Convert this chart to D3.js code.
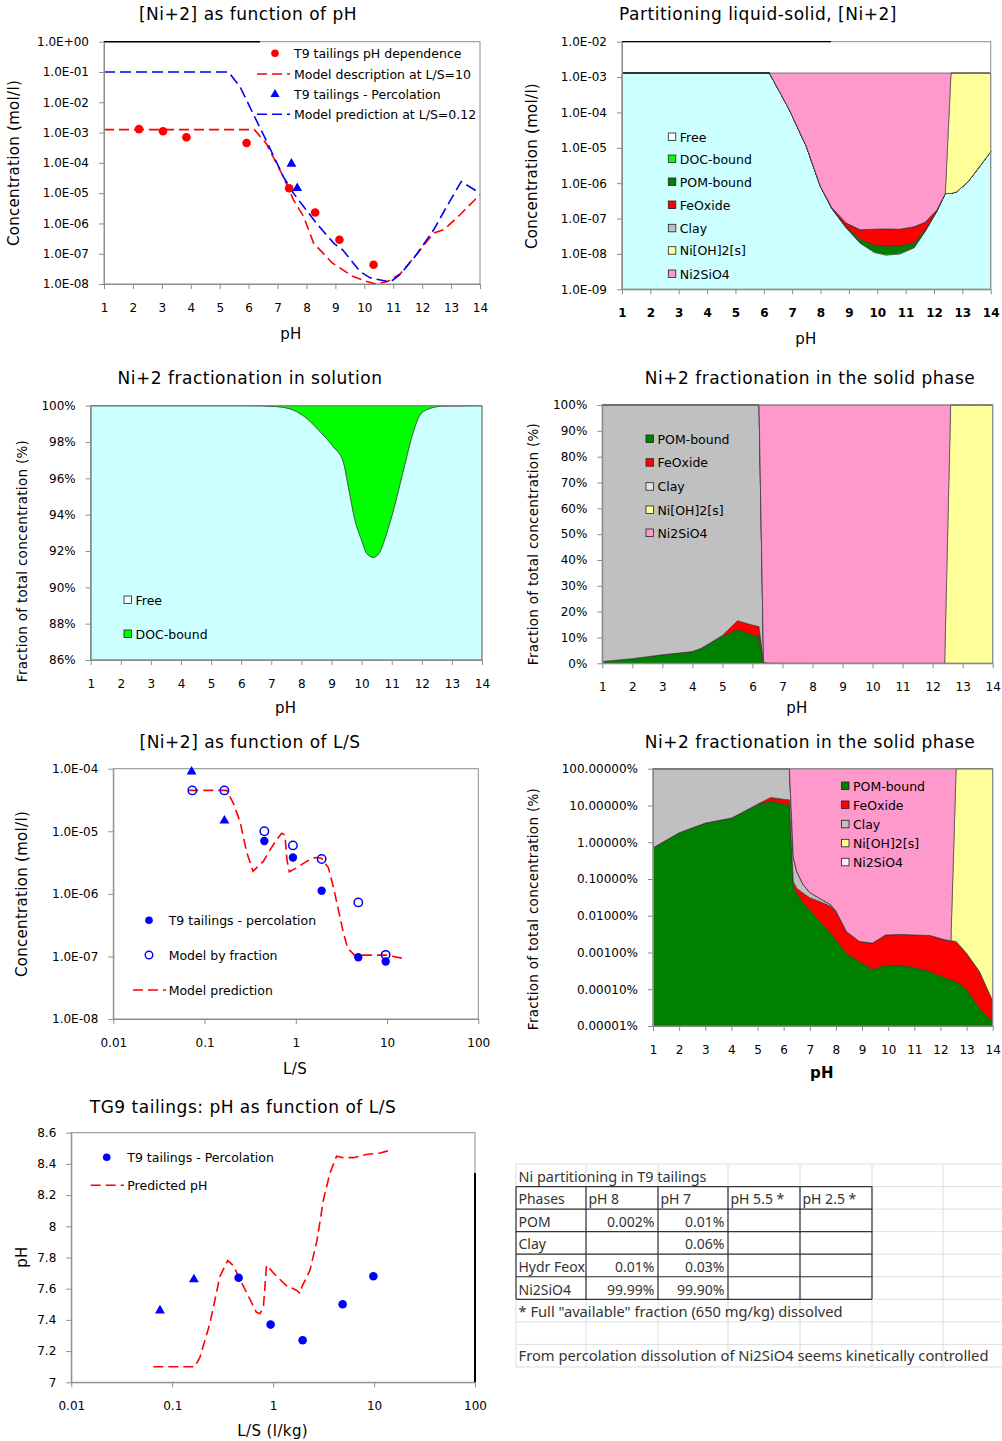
<!DOCTYPE html>
<html>
<head>
<meta charset="utf-8">
<script src="https://cdn.jsdelivr.net/npm/d3@7"></script>
<style>
  body { margin: 0; background: #fff; }
</style>
</head>
<body>
<svg id="fig" width="1002" height="1441"></svg>
<script>
// ---------- panel 1: [Ni+2] as function of pH ----------
const obsPH = [2.21, 3.04, 3.85, 5.93, 7.40, 8.30, 9.14, 10.32];
const obsConc = [1.3e-3, 1.1e-3, 7e-4, 4.5e-4, 1.45e-5, 2.3e-6, 2.9e-7, 4.3e-8];
const percPH = [7.48, 7.68];
const percConc = [9.3e-5, 1.45e-5];
const ls10PH = [1, 6.2, 6.6, 7.2, 7.55, 7.9, 8.25, 8.9, 9.6, 10.1, 10.4, 10.8, 11.25, 11.8, 12.4, 12.75, 13.3, 14];
const ls10Conc = [1.25e-3, 1.25e-3, 4.5e-4, 3.5e-5, 6e-6, 1.7e-6, 2.2e-7, 4.9e-8, 1.8e-8, 1.2e-8, 1.0e-8, 1.2e-8, 2.2e-8, 9.3e-8, 4.8e-7, 6.2e-7, 1.9e-6, 8.9e-6];
const ls012PH = [1, 5.3, 5.7, 6.15, 6.6, 7.2, 7.55, 7.9, 8.35, 8.95, 9.25, 9.85, 10.2, 10.65, 10.9, 11.25, 11.8, 12.4, 12.85, 13.35, 14];
const ls012Conc = [0.1, 0.1, 3.3e-2, 4.3e-3, 5.7e-4, 3.5e-5, 1e-5, 3.6e-6, 1e-6, 2.2e-7, 1.35e-7, 2.6e-8, 1.6e-8, 1.3e-8, 1.15e-8, 2.1e-8, 9.3e-8, 6.2e-7, 3.6e-6, 2.4e-5, 1e-5];

// ---------- panel 2: partitioning liquid-solid (mol/l) ----------
const partPH = [1, 6.2, 6.9, 7.5, 8.0, 8.4, 8.9, 9.4, 9.9, 10.3, 10.8, 11.3, 11.7, 12.1, 12.4, 12.6, 12.8, 13.2, 13.6, 14];
const partFree = [1.3e-3, 1.3e-3, 1.2e-4, 1.1e-5, 8e-7, 1.9e-7, 5.5e-8, 2.0e-8, 1.1e-8, 9.3e-9, 1.0e-8, 1.5e-8, 4.5e-8, 1.6e-7, 5.1e-7, 5.1e-7, 5.7e-7, 1.1e-6, 2.9e-6, 7.8e-6];
const partDOC = [0, 0, 0, 0, 0, 1e-9, 1e-9, 1e-9, 8e-10, 8e-10, 8e-10, 6e-10, 5e-10, 2e-10, 0, 0, 0, 0, 0, 0];
const partPOM = [0, 0, 0, 0, 0, 2e-9, 4e-9, 5e-9, 6e-9, 6.5e-9, 6e-9, 5e-9, 4e-9, 3e-9, 1e-9, 0, 0, 0, 0, 0];
const partFeOx = [0, 0, 0, 0, 0, 1e-8, 1.5e-8, 2.2e-8, 3.2e-8, 3.4e-8, 3.3e-8, 3.8e-8, 3e-8, 1e-8, 2e-9, 0, 0, 0, 0, 0];
const partClay = [0, 0, 0, 0, 0, 3e-10, 3e-10, 3e-10, 3e-10, 3e-10, 3e-10, 3e-10, 3e-10, 2e-10, 0, 0, 0, 0, 0, 0];
const partNiOH2 = [0, 0, 0, 0, 0, 0, 0, 0, 0, 0, 0, 0, 0, 0, 0, 1.3e-3, 1.3e-3, 1.3e-3, 1.3e-3, 1.29e-3];
const partNi2SiO4 = [0, 0, 1.18e-3, 1.29e-3, 1.3e-3, 1.3e-3, 1.3e-3, 1.3e-3, 1.3e-3, 1.3e-3, 1.3e-3, 1.3e-3, 1.3e-3, 1.3e-3, 1.3e-3, 0, 0, 0, 0, 0];

// ---------- panel 3: fractionation in solution (%) ----------
const solPH = [1, 6.3, 7.18, 7.73, 8.18, 8.62, 9.06, 9.39, 9.56, 9.78, 10.0, 10.17, 10.39, 10.61, 10.83, 11.06, 11.39, 11.72, 11.94, 12.27, 12.72, 14];
const solFree = [100, 100, 99.95, 99.76, 99.3, 98.57, 97.74, 96.92, 95.54, 93.7, 92.6, 91.87, 91.65, 91.96, 92.97, 94.26, 96.46, 98.57, 99.49, 99.85, 99.98, 100];
const solDOC = [0, 0, 0.05, 0.24, 0.7, 1.43, 2.26, 3.08, 4.46, 6.3, 7.4, 8.13, 8.35, 8.04, 7.03, 5.74, 3.54, 1.43, 0.51, 0.15, 0.02, 0];

// ---------- panels 4 and 6: fractionation in the solid phase (%) ----------
const solidPH = [1, 2, 3, 4, 4.3, 5, 5.5, 6, 6.22, 6.37, 6.5, 6.75, 7, 7.4, 7.8, 8.0, 8.4, 8.9, 9.4, 9.9, 10.5, 11, 11.6, 12.2, 12.4, 12.6, 13, 13.5, 14];
const solidPOM = [0.7, 1.8, 3.3, 4.5, 5.8, 10.5, 13, 11, 10.2, 0.065, 0.041, 0.022, 0.0144, 0.0069, 0.0033, 0.0022, 0.00095, 0.00056, 0.00035, 0.00044, 0.00044, 0.00039, 0.0003, 0.0002, 0.00018, 0.00016, 0.0001, 0.00003, 0.0000132];
const solidFeOx = [0.002, 0.005, 0.01, 0.03, 0.05, 0.3, 3.5, 3.8, 4.0, 0.02, 0.015, 0.019, 0.0166, 0.0171, 0.0147, 0.0108, 0.00275, 0.00144, 0.00145, 0.00256, 0.00266, 0.00261, 0.0026, 0.002, 0.00192, 0.00184, 0.00085, 0.00027, 0.000035];
const solidClay = [99.3, 98.2, 96.7, 95.47, 94.15, 89.2, 83.5, 85.2, 85.8, 0.315, 0.104, 0.029, 0.012, 0.005, 0.002, 0.0005, 0, 0, 0, 0, 0, 0, 0, 0, 0, 0, 0, 0, 0];
const solidNiOH2 = [0, 0, 0, 0, 0, 0, 0, 0, 0, 0, 0, 0, 0, 0, 0, 0, 0, 0, 0, 0, 0, 0, 0, 0, 0, 99.998, 99.999, 99.9997, 99.99995];
const solidNi2SiO4 = [0, 0, 0, 0, 0, 0, 0, 0, 0, 99.6, 99.84, 99.93, 99.957, 99.971, 99.98, 99.987, 99.996, 99.998, 99.998, 99.997, 99.997, 99.997, 99.997, 99.998, 99.998, 0, 0, 0, 0];

// ---------- panel 5: [Ni+2] as function of L/S ----------
const lsTriLS = [0.0721, 0.165];
const lsTriConc = [9e-5, 1.48e-5];
const lsPercLS = [0.452, 0.93, 1.92, 4.84, 9.66];
const lsPercConc = [7e-6, 3.8e-6, 1.12e-6, 9.7e-8, 8.3e-8];
const lsFracLS = [0.0734, 0.165, 0.452, 0.93, 1.92, 4.84, 9.66];
const lsFracConc = [4.5e-5, 4.5e-5, 1.0e-5, 5.95e-6, 3.6e-6, 7.3e-7, 1.06e-7];
const lsModelLS = [0.0664, 0.175, 0.207, 0.245, 0.289, 0.34, 0.44, 0.52, 0.61, 0.70, 0.76, 0.80, 0.85, 1.02, 1.31, 1.63, 1.92, 2.28, 2.6, 2.9, 3.3, 3.7, 4.4, 5.5, 7.0, 9.9, 15.0];
const lsModelConc = [4.5e-5, 4.5e-5, 2.8e-5, 1.42e-5, 4.7e-6, 2.3e-6, 3.3e-6, 5e-6, 7.2e-6, 9.3e-6, 8.7e-6, 3.5e-6, 2.26e-6, 2.6e-6, 3.3e-6, 3.8e-6, 3.7e-6, 2.6e-6, 1.23e-6, 5.9e-7, 2.5e-7, 1.35e-7, 1.05e-7, 1.05e-7, 1.05e-7, 1.05e-7, 9.3e-8];

// ---------- panel 7: pH as function of L/S ----------
const phTriLS = [0.0756, 0.164];
const phTriPH = [7.46, 7.66];
const phPercLS = [0.455, 0.944, 1.96, 4.88, 9.84];
const phPercPH = [7.67, 7.37, 7.27, 7.50, 7.68];
const phModelLS = [0.065, 0.167, 0.188, 0.237, 0.297, 0.355, 0.40, 0.47, 0.57, 0.68, 0.74, 0.80, 0.86, 1.08, 1.35, 1.70, 1.85, 1.92, 2.32, 2.72, 3.15, 3.65, 4.25, 4.95, 6.2, 8.4, 11.5, 14.9];
const phModelPH = [7.10, 7.10, 7.16, 7.38, 7.68, 7.78, 7.75, 7.66, 7.55, 7.45, 7.44, 7.48, 7.75, 7.68, 7.62, 7.59, 7.57, 7.61, 7.72, 7.91, 8.17, 8.34, 8.45, 8.44, 8.44, 8.46, 8.47, 8.49];

// ---------- table ----------
const tableTitle = "Ni partitioning in T9 tailings";
const tableHeader = ["Phases", "pH 8", "pH 7", "pH 5.5 *", "pH 2.5 *"];
const tableRows = [
  ["POM", "0.002%", "0.01%", "", ""],
  ["Clay", "", "0.06%", "", ""],
  ["Hydr Feox", "0.01%", "0.03%", "", ""],
  ["Ni2SiO4", "99.99%", "99.90%", "", ""]
];
const tableNote = "* Full \"available\" fraction (650 mg/kg) dissolved";
const tableRemark = "From percolation dissolution of Ni2SiO4 seems kinetically controlled";

// tick values
const pHTicks = d3.range(1, 15);
const lsTicks = [0.01, 0.1, 1, 10, 100];

const COL = {free: "#CCFFFF", doc: "#00FF00", pom: "#008000", feox: "#FF0000", clay: "#C0C0C0", nioh2: "#FFFF99", ni2sio4: "#FF99CC"};
const FONT = "DejaVu Sans";
const svg = d3.select("#fig");
svg.append("rect").attr("width", 1002).attr("height", 1441).attr("fill", "#fff");

function eLabel(v) {
  const e = Math.round(Math.log10(v));
  return "1.0E" + (e < 0 ? "-" : "+") + String(Math.abs(e)).padStart(2, "0");
}

function txt(g, x, y, s, size, o = {}) {
  const t = g.append("text").attr("x", x).attr("y", y)
    .attr("font-family", o.family || FONT).attr("font-size", size)
    .attr("dominant-baseline", "central").attr("text-anchor", o.anchor || "start")
    .attr("fill", o.fill || "#000").text(s);
  if (o.rotate) t.attr("transform", `rotate(-90,${x},${y})`);
  if (o.weight) t.attr("font-weight", o.weight);
  if (o.ls) t.attr("letter-spacing", o.ls);
  return t;
}

function frame(g, x, y) {
  const [L, R] = x.range(), [B, T] = y.range();
  g.append("rect").attr("x", L).attr("y", T).attr("width", R - L).attr("height", B - T)
    .attr("fill", "none").attr("stroke", "#8c8c8c").attr("stroke-width", 1);
}

function drawAxes(g, x, y, c) {
  const gx = g.append("g").attr("transform", `translate(0,${y.range()[0]})`)
    .call(d3.axisBottom(x).tickValues(c.xTicks).tickFormat(c.xFmt).tickSize(5).tickSizeOuter(0).tickPadding(14));
  const gy = g.append("g").attr("transform", `translate(${x.range()[0]},0)`)
    .call(d3.axisLeft(y).tickValues(c.yTicks).tickFormat(c.yFmt).tickSize(5).tickSizeOuter(0).tickPadding(10));
  for (const a of [gx, gy]) {
    a.select(".domain").attr("stroke", "#8c8c8c");
    a.selectAll(".tick line").attr("stroke", "#8c8c8c");
    a.selectAll(".tick text").attr("font-family", FONT).attr("font-size", 12).attr("fill", "#000");
  }
  if (c.xBold) gx.selectAll(".tick text").attr("font-weight", "bold");
}

function titles(g, t, yt, xt) {
  txt(g, t[0], t[1], t[2], 17, {anchor: "middle", ls: 0.5});
  txt(g, yt[0], yt[1], yt[2], yt[3], {anchor: "middle", rotate: true, ls: 0.3});
  txt(g, xt[0], xt[1], xt[2], 15, {anchor: "middle", ls: 0.4, weight: xt[3]});
}

function legendBox(g, x, y, color, label) {
  g.append("rect").attr("x", x).attr("y", y - 4).attr("width", 7.5).attr("height", 7.5)
    .attr("fill", color).attr("stroke", "#222").attr("stroke-width", 0.8);
  txt(g, x + 11.5, y, label, 12.5);
}

const dashed = (g, d, color, dash) => g.append("path").attr("d", d).attr("fill", "none")
  .attr("stroke", color).attr("stroke-width", 1.6).attr("stroke-dasharray", dash);

function stackRows(xs, series) {
  return xs.map((p, i) => {
    const r = {x: p};
    for (const k in series) r[k] = series[k][i];
    return r;
  });
}

function drawStack(g, rows, keys, x, y, curve, colors) {
  const st = d3.stack().keys(keys)(rows);
  const lo = y.domain()[0];
  const area = d3.area().curve(curve)
    .x(d => x(d.data.x))
    .y0(d => y(Math.max(d[0], lo)))
    .y1(d => y(Math.max(d[1], lo)));
  g.append("g").selectAll("path").data(st).join("path")
    .attr("d", area).attr("fill", s => colors[s.key])
    .attr("stroke", "#333").attr("stroke-width", 0.6);
}

// ================= panel 1 =================
{
  const g = svg.append("g");
  const x = d3.scaleLinear().domain([1, 14]).range([104, 480]);
  const y = d3.scaleLog().domain([1e-8, 1]).range([284, 41.7]).clamp(true);
  frame(g, x, y);
  g.append("line").attr("x1", 104).attr("x2", 260).attr("y1", 41.7).attr("y2", 41.7).attr("stroke", "#000").attr("stroke-width", 1.4);
  const line = d3.line().x(d => x(d[0])).y(d => y(d[1]));
  dashed(g, line(d3.zip(ls10PH, ls10Conc)), "#FF0000", "10,5");
  dashed(g, line(d3.zip(ls012PH, ls012Conc)), "#0000FF", "11,5");
  g.selectAll(".obs").data(d3.zip(obsPH, obsConc)).join("circle")
    .attr("cx", d => x(d[0])).attr("cy", d => y(d[1])).attr("r", 4.3).attr("fill", "#FF0000");
  g.selectAll(".perc").data(d3.zip(percPH, percConc)).join("path")
    .attr("transform", d => `translate(${x(d[0])},${y(d[1])})`)
    .attr("d", d3.symbol(d3.symbolTriangle, 42)).attr("fill", "#0000FF");
  drawAxes(g, x, y, {xTicks: pHTicks, xFmt: d3.format("d"), yTicks: d3.range(-8, 1).map(e => Math.pow(10, e)), yFmt: eLabel});
  // legend
  g.append("circle").attr("cx", 275).attr("cy", 53.3).attr("r", 3.8).attr("fill", "#FF0000");
  g.append("path").attr("d", d3.symbol(d3.symbolTriangle, 36)).attr("transform", "translate(275,94.3)").attr("fill", "#0000FF");
  dashed(g, "M257,74H290", "#FF0000", "10,5");
  dashed(g, "M257,114.3H290", "#0000FF", "10,5");
  txt(g, 294, 53.3, "T9 tailings  pH dependence", 12.5);
  txt(g, 294, 74, "Model description at L/S=10", 12.5);
  txt(g, 294, 94.3, "T9 tailings  - Percolation", 12.5);
  txt(g, 294, 114.3, "Model prediction at L/S=0.12", 12.5);
  titles(g, [248, 13.5, "[Ni+2] as function of pH"], [14, 163, "Concentration (mol/l)", 15], [291, 334, "pH"]);
}

// ================= panel 2 =================
{
  const g = svg.append("g");
  const x = d3.scaleLinear().domain([1, 14]).range([622, 990.7]);
  const y = d3.scaleLog().domain([1e-9, 1e-2]).range([289.3, 41.7]).clamp(true);
  const rows = stackRows(partPH, {free: partFree, doc: partDOC, pom: partPOM, feox: partFeOx, clay: partClay, nioh2: partNiOH2, ni2sio4: partNi2SiO4});
  drawStack(g, rows, ["free", "doc", "pom", "feox", "clay", "nioh2", "ni2sio4"], x, y, d3.curveLinear, COL);
  frame(g, x, y);
  g.append("line").attr("x1", 622).attr("x2", 831).attr("y1", 41.7).attr("y2", 41.7).attr("stroke", "#000").attr("stroke-width", 1.2);
  drawAxes(g, x, y, {xTicks: pHTicks, xFmt: d3.format("d"), yTicks: d3.range(-9, -1).map(e => Math.pow(10, e)), yFmt: eLabel, xBold: true});
  const items = [["#f6ffff", "Free"], [COL.doc, "DOC-bound"], [COL.pom, "POM-bound"], [COL.feox, "FeOxide"], [COL.clay, "Clay"], [COL.nioh2, "Ni[OH]2[s]"], [COL.ni2sio4, "Ni2SiO4"]];
  const ly = [137, 159, 182, 205, 228.3, 250.7, 274];
  items.forEach((it, i) => legendBox(g, 668.3, ly[i], it[0], it[1]));
  titles(g, [758, 13.5, "Partitioning liquid-solid, [Ni+2]"], [532, 166, "Concentration (mol/l)", 15], [806, 339, "pH"]);
}

// ================= panel 3 =================
{
  const g = svg.append("g");
  const x = d3.scaleLinear().domain([1, 14]).range([90.7, 482]);
  const y = d3.scaleLinear().domain([86, 100]).range([660, 405.7]).clamp(true);
  const rows = stackRows(solPH, {free: solFree, doc: solDOC});
  drawStack(g, rows, ["free", "doc"], x, y, d3.curveMonotoneX, COL);
  frame(g, x, y);
  drawAxes(g, x, y, {xTicks: pHTicks, xFmt: d3.format("d"), yTicks: d3.range(86, 101, 2), yFmt: d => d + "%"});
  legendBox(g, 124, 600, "#f6ffff", "Free");
  legendBox(g, 124, 634, COL.doc, "DOC-bound");
  titles(g, [250, 378, "Ni+2 fractionation in solution"], [22, 561, "Fraction of total concentration (%)", 13.5], [285.7, 708, "pH"]);
}

// ================= panel 4 =================
const solidSeries = {pom: solidPOM, feox: solidFeOx, clay: solidClay, nioh2: solidNiOH2, ni2sio4: solidNi2SiO4};
const solidKeys = ["pom", "feox", "clay", "nioh2", "ni2sio4"];
{
  const g = svg.append("g");
  const x = d3.scaleLinear().domain([1, 14]).range([602.3, 992.7]);
  const y = d3.scaleLinear().domain([0, 100]).range([663.3, 405]).clamp(true);
  drawStack(g, stackRows(solidPH, solidSeries), solidKeys, x, y, d3.curveLinear, COL);
  frame(g, x, y);
  drawAxes(g, x, y, {xTicks: pHTicks, xFmt: d3.format("d"), yTicks: d3.range(0, 101, 10), yFmt: d => d + "%"});
  const items = [[COL.pom, "POM-bound"], [COL.feox, "FeOxide"], ["#e6e6e6", "Clay"], [COL.nioh2, "Ni[OH]2[s]"], [COL.ni2sio4, "Ni2SiO4"]];
  const ly = [439, 462.7, 486.7, 510, 533];
  items.forEach((it, i) => legendBox(g, 646, ly[i], it[0], it[1]));
  titles(g, [810, 378, "Ni+2 fractionation in the solid phase"], [533, 544, "Fraction of total concentration (%)", 13.5], [797, 708, "pH"]);
}

// ================= panel 5 =================
{
  const g = svg.append("g");
  const x = d3.scaleLog().domain([0.01, 100]).range([113.3, 478.3]);
  const y = d3.scaleLog().domain([1e-8, 1e-4]).range([1019, 768.7]).clamp(true);
  frame(g, x, y);
  const line = d3.line().x(d => x(d[0])).y(d => y(d[1]));
  dashed(g, line(d3.zip(lsModelLS, lsModelConc)), "#FF0000", "10,5");
  g.selectAll(".tri").data(d3.zip(lsTriLS, lsTriConc)).join("path")
    .attr("transform", d => `translate(${x(d[0])},${y(d[1])})`)
    .attr("d", d3.symbol(d3.symbolTriangle, 42)).attr("fill", "#0000FF");
  g.selectAll(".perc").data(d3.zip(lsPercLS, lsPercConc)).join("circle")
    .attr("cx", d => x(d[0])).attr("cy", d => y(d[1])).attr("r", 4.2).attr("fill", "#0000FF");
  g.selectAll(".frac").data(d3.zip(lsFracLS, lsFracConc)).join("circle")
    .attr("cx", d => x(d[0])).attr("cy", d => y(d[1])).attr("r", 4.2)
    .attr("fill", "none").attr("stroke", "#0000FF").attr("stroke-width", 1.5);
  drawAxes(g, x, y, {xTicks: lsTicks, xFmt: d => String(d), yTicks: d3.range(-8, -3).map(e => Math.pow(10, e)), yFmt: eLabel});
  g.append("circle").attr("cx", 149).attr("cy", 920.3).attr("r", 3.8).attr("fill", "#0000FF");
  g.append("circle").attr("cx", 149).attr("cy", 955).attr("r", 3.8).attr("fill", "none").attr("stroke", "#0000FF").attr("stroke-width", 1.4);
  dashed(g, "M133,990H166", "#FF0000", "10,5");
  txt(g, 168.7, 920.3, "T9 tailings  - percolation", 12.5);
  txt(g, 168.7, 955, "Model by fraction", 12.5);
  txt(g, 168.7, 990, "Model prediction", 12.5);
  titles(g, [250, 742, "[Ni+2] as function of L/S"], [22, 894, "Concentration (mol/l)", 15], [295, 1069, "L/S"]);
}

// ================= panel 6 =================
{
  const g = svg.append("g");
  const x = d3.scaleLinear().domain([1, 14]).range([653, 992.7]);
  const y = d3.scaleLog().domain([1e-5, 100]).range([1026, 768.7]).clamp(true);
  drawStack(g, stackRows(solidPH, solidSeries), solidKeys, x, y, d3.curveLinear, COL);
  frame(g, x, y);
  drawAxes(g, x, y, {xTicks: pHTicks, xFmt: d3.format("d"), yTicks: d3.range(-5, 3).map(e => Math.pow(10, e)), yFmt: d => d.toFixed(5) + "%"});
  const items = [[COL.pom, "POM-bound"], [COL.feox, "FeOxide"], [COL.clay, "Clay"], [COL.nioh2, "Ni[OH]2[s]"], ["#ffeef6", "Ni2SiO4"]];
  const ly = [786, 805, 824.3, 843.3, 862.3];
  items.forEach((it, i) => legendBox(g, 841.5, ly[i], it[0], it[1]));
  titles(g, [810, 742, "Ni+2 fractionation in the solid phase"], [533, 909, "Fraction of total concentration (%)", 13.5], [822, 1073, "pH", "bold"]);
}

// ================= panel 7 =================
{
  const g = svg.append("g");
  const x = d3.scaleLog().domain([0.01, 100]).range([71.3, 475]);
  const y = d3.scaleLinear().domain([7, 8.6]).range([1382.3, 1132.7]);
  frame(g, x, y);
  g.append("line").attr("x1", 475).attr("x2", 475).attr("y1", 1173).attr("y2", 1382.3).attr("stroke", "#000").attr("stroke-width", 2);
  const line = d3.line().x(d => x(d[0])).y(d => y(d[1]));
  dashed(g, line(d3.zip(phModelLS, phModelPH)), "#FF0000", "10,5");
  g.selectAll(".tri").data(d3.zip(phTriLS, phTriPH)).join("path")
    .attr("transform", d => `translate(${x(d[0])},${y(d[1])})`)
    .attr("d", d3.symbol(d3.symbolTriangle, 42)).attr("fill", "#0000FF");
  g.selectAll(".perc").data(d3.zip(phPercLS, phPercPH)).join("circle")
    .attr("cx", d => x(d[0])).attr("cy", d => y(d[1])).attr("r", 4.3).attr("fill", "#0000FF");
  drawAxes(g, x, y, {xTicks: lsTicks, xFmt: d => String(d), yTicks: d3.range(0, 9).map(i => 7 + i * 0.2), yFmt: d => String(+d.toFixed(1))});
  g.append("circle").attr("cx", 106.7).attr("cy", 1157.3).attr("r", 3.8).attr("fill", "#0000FF");
  dashed(g, "M90.7,1185.3H124", "#FF0000", "10,5");
  txt(g, 127.3, 1157.3, "T9 tailings  - Percolation", 12.5);
  txt(g, 127.3, 1185.3, "Predicted pH", 12.5);
  titles(g, [243, 1107, "TG9 tailings: pH as function of L/S"], [21.7, 1257, "pH", 15], [272.7, 1431, "L/S (l/kg)"]);
}

// ================= table =================
{
  const g = svg.append("g");
  const sheetCols = [516, 586, 658, 728, 800, 872, 943, 1014];
  const sheetRows = d3.range(0, 10).map(i => 1164 + i * 22.55);
  // faint spreadsheet grid
  sheetCols.forEach(cx => g.append("line").attr("x1", cx).attr("x2", cx).attr("y1", 1164).attr("y2", 1367)
    .attr("stroke", "#dedede").attr("stroke-width", 1));
  sheetRows.forEach(ry => g.append("line").attr("x1", 516).attr("x2", 1002).attr("y1", ry).attr("y2", ry)
    .attr("stroke", "#dedede").attr("stroke-width", 1));
  // white band behind the two text lines
  const tf = "Noto Sans";
  const colL = sheetCols.slice(0, 6);
  const rowT = sheetRows.slice(1, 7);
  // table borders
  rowT.forEach(ry => g.append("line").attr("x1", colL[0]).attr("x2", colL[5]).attr("y1", ry).attr("y2", ry)
    .attr("stroke", "#333").attr("stroke-width", 1.2));
  colL.forEach(cx => g.append("line").attr("x1", cx).attr("x2", cx).attr("y1", rowT[0]).attr("y2", rowT[5])
    .attr("stroke", "#333").attr("stroke-width", 1.2));
  txt(g, 518.5, (sheetRows[0] + sheetRows[1]) / 2 + 1, tableTitle, 14, {family: tf, fill: "#333"}).attr("textLength", 188).attr("lengthAdjust", "spacingAndGlyphs");
  const allRows = [tableHeader].concat(tableRows);
  allRows.forEach((r, ri) => {
    const cy = (rowT[ri] + rowT[ri + 1]) / 2 + 1;
    r.forEach((cell, ci) => {
      if (!cell) return;
      const numeric = ri > 0 && ci > 0;
      const xx = numeric ? colL[ci + 1] - 3.5 : colL[ci] + 2.5;
      txt(g, xx, cy, cell, 14, {family: tf, fill: "#333", anchor: numeric ? "end" : "start"});
    });
  });
  txt(g, 518.5, (sheetRows[6] + sheetRows[7]) / 2 + 1, tableNote, 14, {family: tf, fill: "#333"}).attr("textLength", 324).attr("lengthAdjust", "spacingAndGlyphs");
  txt(g, 518.5, (sheetRows[8] + sheetRows[9]) / 2, tableRemark, 14, {family: tf, fill: "#333"}).attr("textLength", 470).attr("lengthAdjust", "spacingAndGlyphs");
}
</script>
</body>
</html>
